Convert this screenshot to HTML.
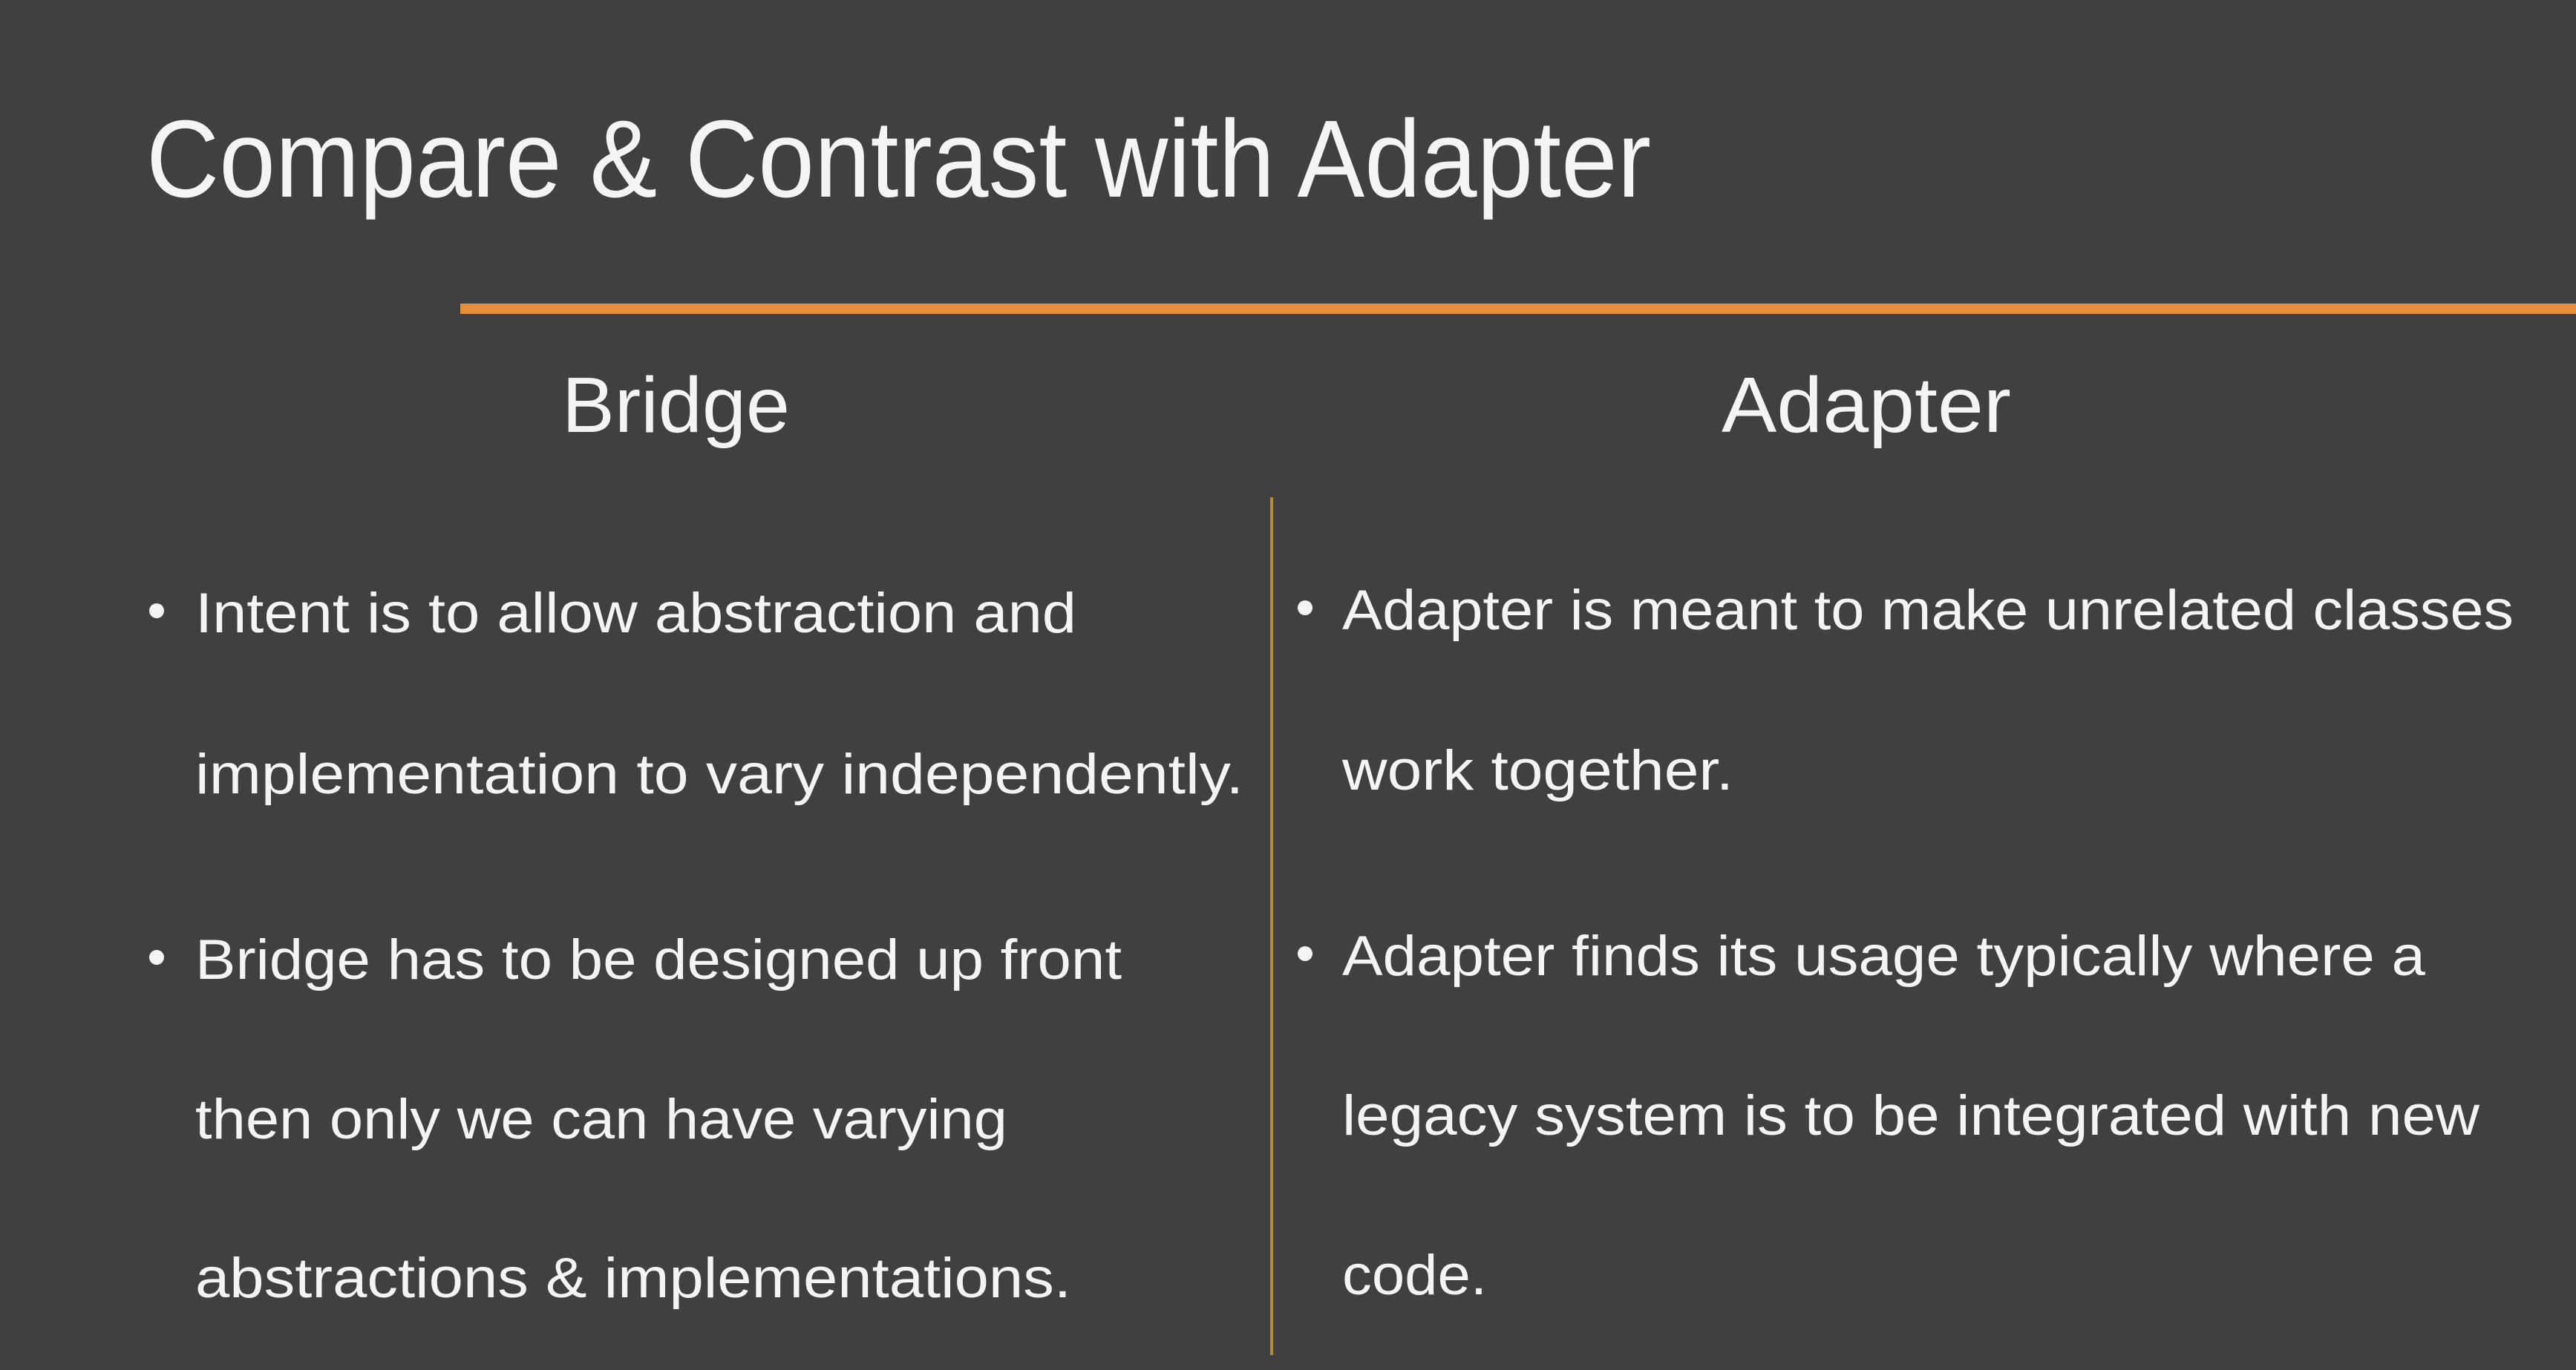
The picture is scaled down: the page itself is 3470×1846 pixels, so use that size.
<!DOCTYPE html>
<html><head><meta charset="utf-8"><style>
html,body{margin:0;padding:0;background:#404040;}
svg{display:block;}
text{font-family:"Liberation Sans",sans-serif;fill:#f4f4f4;}
</style></head><body>
<svg width="3470" height="1846" viewBox="0 0 3470 1846" xmlns="http://www.w3.org/2000/svg">
<rect width="3470" height="1846" fill="#404040"/>
<text x="197" y="265" font-size="148" textLength="2027" lengthAdjust="spacingAndGlyphs">Compare &amp; Contrast with Adapter</text>
<rect x="620" y="409" width="2850" height="14" fill="#E48E3C"/>
<text x="757" y="582" font-size="106" textLength="307" lengthAdjust="spacingAndGlyphs">Bridge</text>
<text x="2319" y="582" font-size="106" textLength="390" lengthAdjust="spacingAndGlyphs">Adapter</text>
<rect x="1711" y="670" width="4" height="1156" fill="#AE8E3E"/>
<g font-size="76">
<circle cx="211" cy="823" r="10" fill="#f4f4f4"/>
<text x="263" y="852" textLength="1187" lengthAdjust="spacingAndGlyphs">Intent is to allow abstraction and</text>
<text x="263" y="1069" textLength="1412" lengthAdjust="spacingAndGlyphs">implementation to vary independently.</text>
<circle cx="211" cy="1290" r="10" fill="#f4f4f4"/>
<text x="263" y="1319" textLength="1248" lengthAdjust="spacingAndGlyphs">Bridge has to be designed up front</text>
<text x="263" y="1534" textLength="1094" lengthAdjust="spacingAndGlyphs">then only we can have varying</text>
<text x="263" y="1748" textLength="1180" lengthAdjust="spacingAndGlyphs">abstractions &amp; implementations.</text>
<circle cx="1758" cy="819" r="10" fill="#f4f4f4"/>
<text x="1808" y="848" textLength="1578" lengthAdjust="spacingAndGlyphs">Adapter is meant to make unrelated classes</text>
<text x="1808" y="1064" textLength="527" lengthAdjust="spacingAndGlyphs">work together.</text>
<circle cx="1758" cy="1285" r="10" fill="#f4f4f4"/>
<text x="1808" y="1314" textLength="1459" lengthAdjust="spacingAndGlyphs">Adapter finds its usage typically where a</text>
<text x="1808" y="1529" textLength="1532" lengthAdjust="spacingAndGlyphs">legacy system is to be integrated with new</text>
<text x="1808" y="1744" textLength="195" lengthAdjust="spacingAndGlyphs">code.</text>
</g>
</svg>
</body></html>
